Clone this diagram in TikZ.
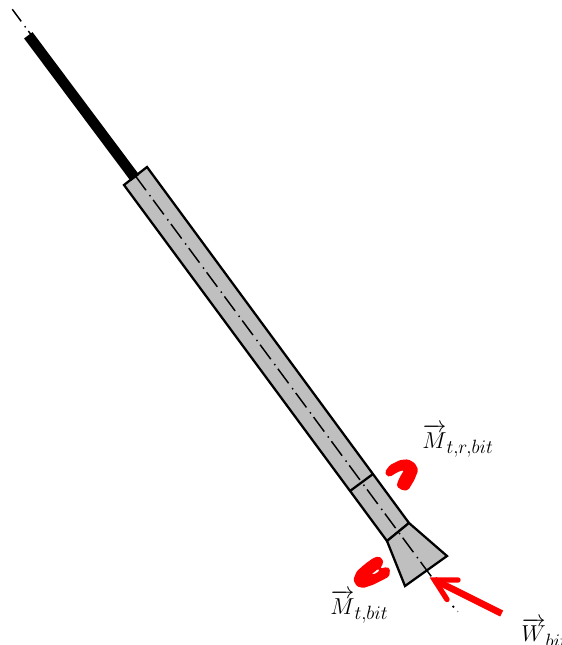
\documentclass[tikz,border=0pt]{standalone}
\usepackage{amsmath}
\DeclareMathSizes{16}{16}{15}{10}
\tikzset{
  px/.style={x=0.75pt,y=-0.75pt},
  body/.style={draw=black,fill=black!25,line width=1.7pt,line join=miter},
  axisline/.style={line width=1.1pt,dash pattern=on 13.5pt off 4.5pt on 1.1pt off 3.4pt,dash phase=2.25pt},
  redshaft/.style={draw=red,line width=5pt},
  redbarb/.style={draw=red,line width=4pt,line cap=round,line join=miter},
  redblob/.style={fill=red,rounded corners=1.2pt},
  lab/.style={inner sep=0pt,anchor=west,font=\fontsize{16}{18}\selectfont}
}
\begin{document}
\begin{tikzpicture}[px]
\useasboundingbox (0,0) rectangle (561,645);
\clip (0,0) rectangle (561,645);
\coordinate (axs) at (12.3,9.3);
\coordinate (axe) at (431.7,577);
\coordinate (r1) at (147,167);
\coordinate (r2) at (124,185);
\coordinate (r3) at (387,541);
\coordinate (r4) at (409,523);
\coordinate (s1) at (350,491);
\coordinate (s2) at (373,474);
\coordinate (f1) at (447,556);
\coordinate (f2) at (405,586);
\coordinate (p1) at (28.3,35.3);
\coordinate (p2) at (135,178);
\coordinate (wt) at (434.5,580);
\coordinate (ws) at (501.7,613.5);
\coordinate (wa) at (458,580);
\coordinate (wb) at (447,599.5);
\draw[body] (r1) -- (r2) -- (r3) -- (r4) -- cycle;
\draw[body] (r4) -- (f1) -- (f2) -- (r3) -- cycle;
\draw[line width=1.7pt] (s1) -- (s2);
\draw[axisline] (axs) -- (axe);
\fill (453.3,606.7) circle (1.3);
\fill[black!40] (457.7,611.5) circle (0.8);
\draw[line width=7.9pt] (p1) -- (p2);
\draw[redshaft] (ws) -- (wt);
\draw[redbarb] (wa) -- (wt) -- (wb);
\path[redblob] (385,471.7) -- (390,465) -- (400,460) -- (408.3,459.3) -- (415,463.3) -- (418.3,470) -- (414.3,480) -- (408.3,490) -- (403.3,490.7) -- (396.7,486.7) -- (397.7,481.7) -- (401,475) -- (404.3,470) -- (398.3,471.7) -- (390,476.7) -- (386.7,476) -- cycle;
\path[redblob,even odd rule] (378.3,556.3) -- (382.3,558.7) -- (383.3,563) -- (380,568.7) -- (386.7,567) -- (390,568.7) -- (389.3,576.3) -- (383.3,579.7) -- (373.3,584.7) -- (363.3,588) -- (356.7,586.3) -- (353.3,579.7) -- (356.7,571.3) -- (365,564) -- (373.3,558) -- cycle
  (378.3,568.7) -- (371,574.7) -- (376.7,573.3) -- (380,569.7) -- cycle;
\node[lab] (mtr) at (422,440.5) {$\overrightarrow{M}_{t,r,bit}$};
\node[lab] (mt) at (330,606.5) {$\overrightarrow{M}_{t,bit}$};
\node[lab] (wbit) at (521,632.5) {$\overrightarrow{W}_{bit}$};
\end{tikzpicture}
\end{document}
